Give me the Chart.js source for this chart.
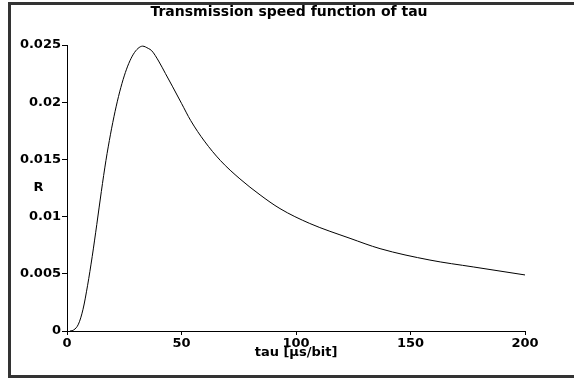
<!DOCTYPE html>
<html>
<head>
<meta charset="utf-8">
<script src="https://cdn.jsdelivr.net/npm/chart.js@4.4.0/dist/chart.umd.min.js"></script>
<style>
    html, body { margin: 0; background: #fff; overflow: hidden; }
    #chart { position: absolute; left: 0; top: 0; }
</style>
</head>
<body>
<canvas id="chart" width="574" height="378"></canvas>
<script>
// data (tau in us/bit, R)
const tauValues = [1.3, 3, 5, 7, 9, 11, 13, 15, 17, 19, 21, 23, 25, 27, 29, 31, 33, 35.5, 37,
    40, 43, 46, 50, 54, 60, 67, 75.5, 84.3, 93, 106, 123.6, 136.7, 158.5, 177.4, 200];
const rValues = [0, 0.0001, 0.0006, 0.0019, 0.0040, 0.0065, 0.0093, 0.0122, 0.0149, 0.0172, 0.0192, 0.0209, 0.0223, 0.0234, 0.0242, 0.0247, 0.0249, 0.0247, 0.0245,
    0.0236, 0.0225, 0.0214, 0.0199, 0.0184, 0.0166, 0.0149, 0.0133, 0.0119, 0.0107, 0.0094, 0.0081, 0.0072, 0.0062, 0.0056, 0.0049];
const xTicks = [0, 50, 100, 150, 200];
const yTicks = [0, 0.005, 0.01, 0.015, 0.02, 0.025];

const titleText = 'Transmission speed function of tau';
const labelFont = { family: "DejaVu Sans", weight: "bold", size: 13 };

// dark frame on the left, top and bottom edges (open on the right)
const windowFrame = {
    id: 'windowFrame',
    beforeDraw(chart) {
        const ctx = chart.ctx;
        ctx.save();
        ctx.fillStyle = '#333';
        ctx.fillRect(8, 2, 3, 376);
        ctx.fillRect(8, 2, 566, 3);
        ctx.fillRect(8, 375, 566, 3);
        ctx.restore();
    }
};

// title is centred on the whole window and "R" stands upright, so both are drawn by hand
const extraText = {
    id: 'extraText',
    afterDraw(chart) {
        const ctx = chart.ctx;
        const area = chart.chartArea;
        ctx.save();
        ctx.fillStyle = '#000';
        ctx.textAlign = 'center';
        ctx.textBaseline = 'middle';
        ctx.font = 'bold 14px "DejaVu Sans"';
        ctx.fillText(titleText, 289, 12);
        ctx.font = 'bold 13px "DejaVu Sans"';
        ctx.fillText('R', 38.5, (area.top + area.bottom) / 2);
        ctx.restore();
    }
};

const points = tauValues.map((t, i) => ({ x: t, y: rValues[i] }));

new Chart(document.getElementById('chart'), {
    type: 'line',
    data: {
        datasets: [{
            data: points,
            borderColor: '#000',
            borderWidth: 1,
            pointRadius: 0,
            fill: false,
            cubicInterpolationMode: 'monotone'
        }]
    },
    options: {
        responsive: false,
        animation: false,
        layout: { padding: { left: 0, right: 49, top: 45, bottom: 0 } },
        plugins: {
            legend: { display: false },
            tooltip: { enabled: false },
            title: { display: false }
        },
        scales: {
            x: {
                type: 'linear',
                min: 0,
                max: 200,
                afterBuildTicks: (scale) => { scale.ticks = xTicks.map(v => ({ value: v })); },
                afterFit: (scale) => { scale.height = 47; },
                grid: { drawOnChartArea: false, tickLength: 4, color: '#000' },
                border: { color: '#000' },
                ticks: { color: '#000', font: labelFont, padding: 1, maxRotation: 0 },
                title: {
                    display: true,
                    text: 'tau [µs/bit]',
                    color: '#000',
                    font: labelFont,
                    padding: { top: 0, bottom: 18 }
                }
            },
            y: {
                min: 0,
                max: 0.025,
                afterBuildTicks: (scale) => { scale.ticks = yTicks.map(v => ({ value: v })); },
                afterFit: (scale) => { scale.width = 67; },
                grid: { drawOnChartArea: false, tickLength: 5, color: '#000' },
                border: { color: '#000' },
                ticks: {
                    color: '#000',
                    font: labelFont,
                    padding: 1,
                    callback: (v) => String(+v.toFixed(3))
                }
            }
        }
    },
    plugins: [windowFrame, extraText]
});
</script>
</body>
</html>
